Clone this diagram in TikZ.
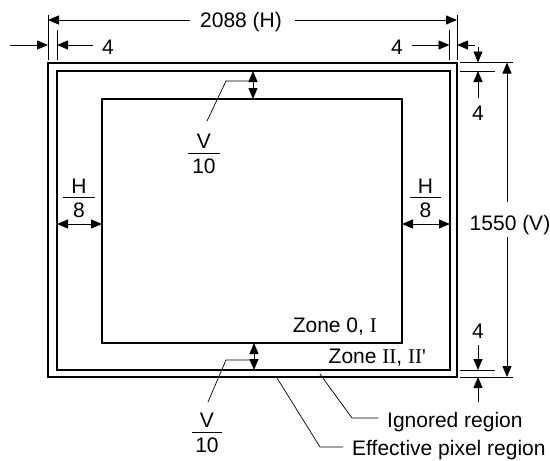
\documentclass[tikz,border=0pt]{standalone}
\usepackage{fontspec}
\setmainfont{Liberation Sans}
\newfontfamily\rmn{Liberation Serif}
\usetikzlibrary{arrows.meta}
\begin{document}
\begin{tikzpicture}[x=1pt,y=-1pt,
  box/.style={line width=2pt},
  dim/.style={line width=0.9pt,-{Triangle[length=11pt,width=9pt]}},
  ddim/.style={line width=0.9pt,{Triangle[length=11pt,width=9pt]}-{Triangle[length=11pt,width=9pt]}},
  ext/.style={line width=0.8pt},
  lead/.style={line width=0.7pt},
  bar/.style={line width=0.9pt},
  lbl/.style={inner sep=0pt,anchor=base,font=\fontsize{21}{25}\selectfont},
  lblw/.style={lbl,anchor=base west},
  lble/.style={lbl,anchor=base east}]
\useasboundingbox (0,0) rectangle (550,461);
% rectangles
\coordinate (o1) at (48,62.5); \coordinate (o2) at (457,377);
\coordinate (i1) at (57,71);   \coordinate (i2) at (450,370);
\coordinate (z1) at (102,99);  \coordinate (z2) at (402,343);
\draw[box] (o1) rectangle (o2);
\draw[box] (i1) rectangle (i2);
\draw[box] (z1) rectangle (z2);
% top dimension 2088 (H)
\node[lbl] (th) at (241,27.3) {2088 (H)};
\draw[ext] (48,15) -- (48,60);
\draw[ext] (457,15) -- (457,60);
\draw[ext] (57,30) -- (57,60);
\draw[ext] (449.5,30) -- (449.5,60);
\coordinate (thl) at (190,20); \coordinate (thr) at (295,20);
\coordinate (thL) at (48,20);  \coordinate (thR) at (457,20);
\draw[dim] (thl) -- (thL);
\draw[dim] (thr) -- (thR);
% row of 4s
\node[lbl] (f1) at (108,54) {4};
\node[lbl] (f2) at (397,54) {4};
\coordinate (a1) at (10,45);  \coordinate (a1e) at (48,45);
\coordinate (a2) at (93,45);  \coordinate (a2e) at (57,45);
\coordinate (a3) at (412,45); \coordinate (a3e) at (449.5,45);
\coordinate (a4) at (475,45); \coordinate (a4e) at (457,45);
\draw[dim] (a1) -- (a1e);
\draw[dim] (a2) -- (a2e);
\draw[dim] (a3) -- (a3e);
\draw[dim] (a4) -- (a4e);
% right extension lines
\draw[ext] (460,62.5) -- (513,62.5);
\draw[ext] (460,71) -- (495,71);
\draw[ext] (460,370) -- (495,370);
\draw[ext] (460,377) -- (513,377);
% right 4s
\node[lbl] (f3) at (478,120) {4};
\node[lbl] (f4) at (478,338) {4};
\coordinate (b1) at (478,47);  \coordinate (b1e) at (478,62.5);
\coordinate (b2) at (478,98);  \coordinate (b2e) at (478,71);
\coordinate (b3) at (478,345); \coordinate (b3e) at (478,370);
\coordinate (b4) at (478,402); \coordinate (b4e) at (478,377);
\draw[dim] (b1) -- (b1e);
\draw[dim] (b2) -- (b2e);
\draw[dim] (b3) -- (b3e);
\draw[dim] (b4) -- (b4e);
% 1550 (V)
\node[lbl] (tv) at (510,230) {1550 (V)};
\coordinate (v1) at (507,202); \coordinate (v1e) at (507,62.5);
\coordinate (v2) at (507,237); \coordinate (v2e) at (507,377);
\draw[dim] (v1) -- (v1e);
\draw[dim] (v2) -- (v2e);
% H/8 left
\node[lbl] (hl) at (79,193) {H};
\draw[bar] (63,197) -- (95,197);
\node[lbl] (hl8) at (79,217) {8};
\coordinate (hla) at (57,224); \coordinate (hlb) at (102,224);
\draw[ddim] (hla) -- (hlb);
% H/8 right
\node[lbl] (hr) at (425.5,193) {H};
\draw[bar] (410,197) -- (441,197);
\node[lbl] (hr8) at (425.5,217) {8};
\coordinate (hra) at (402,224); \coordinate (hrb) at (450,224);
\draw[ddim] (hra) -- (hrb);
% V/10 top
\node[lbl] (vt) at (204,148) {V};
\draw[bar] (188,153) -- (220,153);
\node[lbl] (vt10) at (204,173) {10};
\coordinate (vta) at (253,71); \coordinate (vtb) at (253,99);
\draw[ddim] (vta) -- (vtb);
\coordinate (vtl1) at (253,81); \coordinate (vtl2) at (226,81); \coordinate (vtl3) at (207,121);
\draw[lead] (vtl1) -- (vtl2) -- (vtl3);
% V/10 bottom
\node[lbl] (vb) at (207,427) {V};
\draw[bar] (192,432) -- (222,432);
\node[lbl] (vb10) at (207,452) {10};
\coordinate (vba) at (254,343); \coordinate (vbb) at (254,370);
\draw[ddim] (vba) -- (vbb);
\coordinate (vbl1) at (254,360); \coordinate (vbl2) at (226,360); \coordinate (vbl3) at (208,402);
\draw[lead] (vbl1) -- (vbl2) -- (vbl3);
% zone labels
\node[lble] (z0) at (377,332) {Zone 0, {\rmn I}};
\node[lble] (z2l) at (426,363) {Zone {\rmn II}, {\rmn II\textquotesingle}};
% bottom leaders
\node[lblw] (ign) at (387,427) {Ignored region};
\node[lblw] (eff) at (352,455) {Effective pixel region};
\coordinate (ig1) at (320,374); \coordinate (ig2) at (352,418); \coordinate (ig3) at (378,418);
\draw[lead] (ig1) -- (ig2) -- (ig3);
\coordinate (ef1) at (277,378); \coordinate (ef2) at (320,447); \coordinate (ef3) at (343,447);
\draw[lead] (ef1) -- (ef2) -- (ef3);
\end{tikzpicture}
\end{document}
